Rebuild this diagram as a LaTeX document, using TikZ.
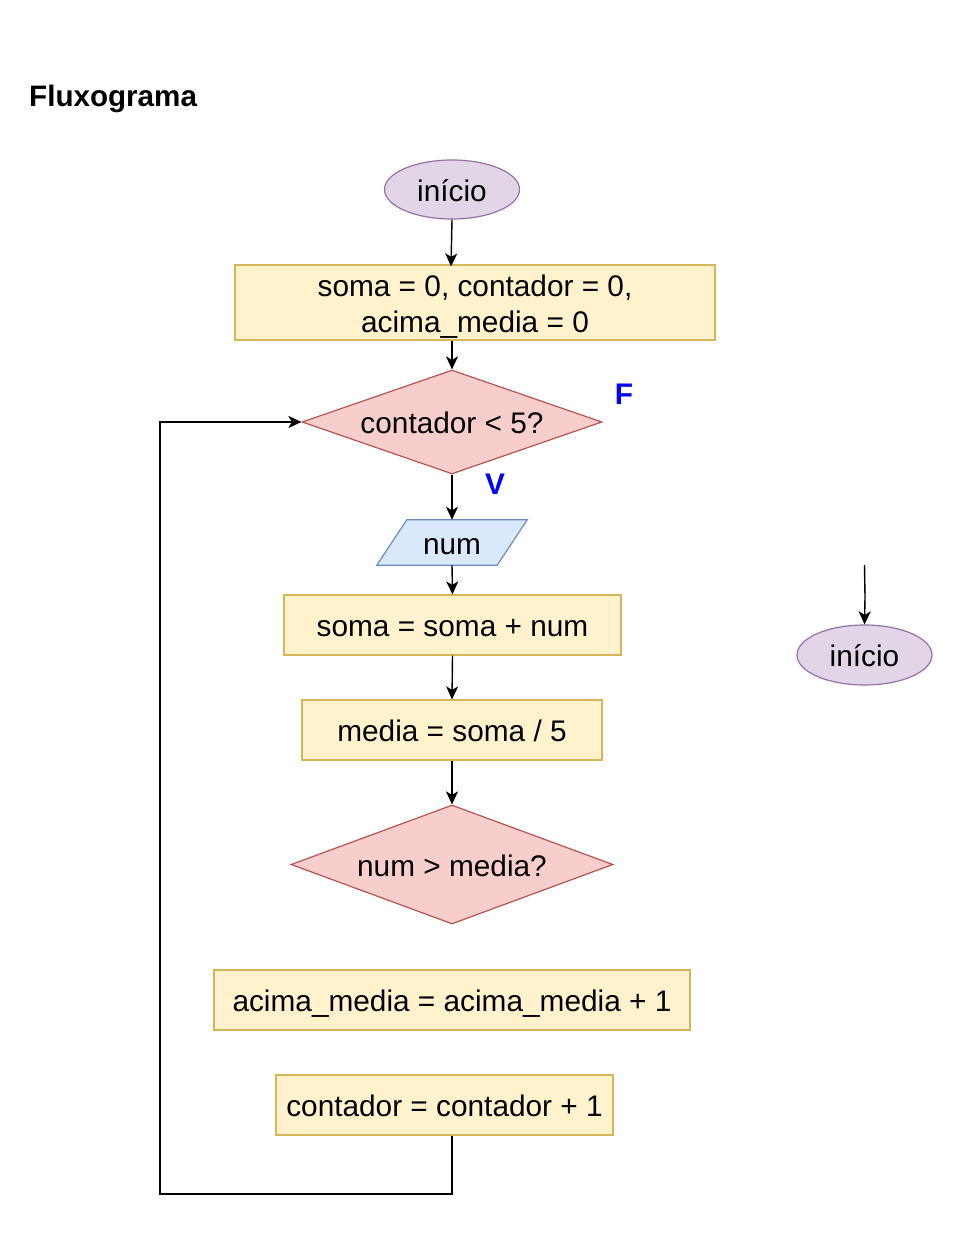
\documentclass[tikz,border=0pt]{standalone}
\usepackage{fontspec}
\setmainfont{Liberation Sans}
\usetikzlibrary{shapes.geometric,arrows.meta,calc}
\definecolor{termfill}{HTML}{E1D5E7}
\definecolor{termdraw}{HTML}{9673A6}
\definecolor{procfill}{HTML}{FFF2CC}
\definecolor{procdraw}{HTML}{D6B656}
\definecolor{decfill}{HTML}{F8CECC}
\definecolor{decdraw}{HTML}{B85450}
\definecolor{iofill}{HTML}{DAE8FC}
\definecolor{iodraw}{HTML}{6C8EBF}
\definecolor{lblblue}{HTML}{0000FF}
\begin{document}
\begin{tikzpicture}[x=1pt,y=-1pt,
  every node/.style={font=\fontsize{29.8}{36}\selectfont, inner sep=0pt},
  oneline/.style={text height=29.4pt, text depth=6pt},
  term/.style={ellipse, draw=termdraw, fill=termfill, line width=1.2pt, oneline},
  proc/.style={rectangle, draw=procdraw, fill=procfill, line width=1.2pt, align=center, oneline},
  dec/.style={diamond, draw=decdraw, fill=decfill, line width=1.2pt, oneline},
  conn/.style={draw=black, line width=1.4pt, -{Stealth[length=13pt,width=12pt,inset=3.5pt]}},
  lbl/.style={text=lblblue, font=\fontsize{29.8}{36}\selectfont\bfseries, anchor=base}
]
\useasboundingbox (0,0) rectangle (965,1238);
\fill[white] (0,0) rectangle (965,1238);

\node[anchor=base west, font=\fontsize{29.6}{36}\selectfont\bfseries] (title) at (29,106.5) {Fluxograma};

\node[term, minimum width=135pt, minimum height=59pt] (i1) at (452,189.5) {início};
\node[rectangle, draw=procdraw, fill=procfill, line width=1.2pt, minimum width=480pt, minimum height=75pt] (b1) at (475,302.5) {};
\node[align=center] (b1t) at ([yshift=-4pt]b1.center) {soma = 0, contador = 0,\\acima\_media = 0};
\node[dec, aspect=2.88, minimum width=300pt, minimum height=104pt] (d1) at (452,422) {contador < 5?};
\node[minimum width=150pt, minimum height=45pt] (num) at (452,542.5) {};
\draw[draw=iodraw, fill=iofill, line width=1.2pt]
  ($(num.north west)+(30,0)$) -- (num.north east) -- ($(num.south east)+(-30,0)$) -- (num.south west) -- cycle;
\node[oneline] (numt) at (num) {num};
\node[proc, minimum width=337pt, minimum height=60pt] (b2) at (452.5,625) {soma = soma + num};
\node[proc, minimum width=300pt, minimum height=60pt] (b3) at (452,730) {media = soma / 5};
\node[dec, aspect=2.7, minimum width=322pt, minimum height=119pt] (d2) at (452,864.5) {num > media?};
\node[proc, minimum width=476pt, minimum height=60pt] (b4) at (452,1000) {acima\_media = acima\_media + 1};
\node[proc, minimum width=337pt, minimum height=60pt] (b5) at (444.5,1105) {contador = contador + 1};
\node[term, minimum width=135pt, minimum height=60pt] (i2) at (864.5,655) {início};

\node[lbl] (lf) at (624,404) {F};
\node[lbl] (lv) at (495,494) {V};

\coordinate (loopc) at (160,1194);
\coordinate (freeend) at (864.5,565);

\draw[conn] (i1.south) -- ([xshift=-24pt,yshift=-2pt]b1.north);
\draw[conn] ([xshift=-23pt]b1.south) -- (d1.north);
\draw[conn] (d1.south) -- (num.north);
\draw[conn] (num.south) -- (b2.north);
\draw[conn] (b2.south) -- (b3.north);
\draw[conn] (b3.south) -- (d2.north);
\draw[conn] ([xshift=7.5pt]b5.south) |- (loopc) |- (d1.west);
\draw[conn] (freeend) -- ++(0.5,32) -- (i2.north);
\end{tikzpicture}
\end{document}
